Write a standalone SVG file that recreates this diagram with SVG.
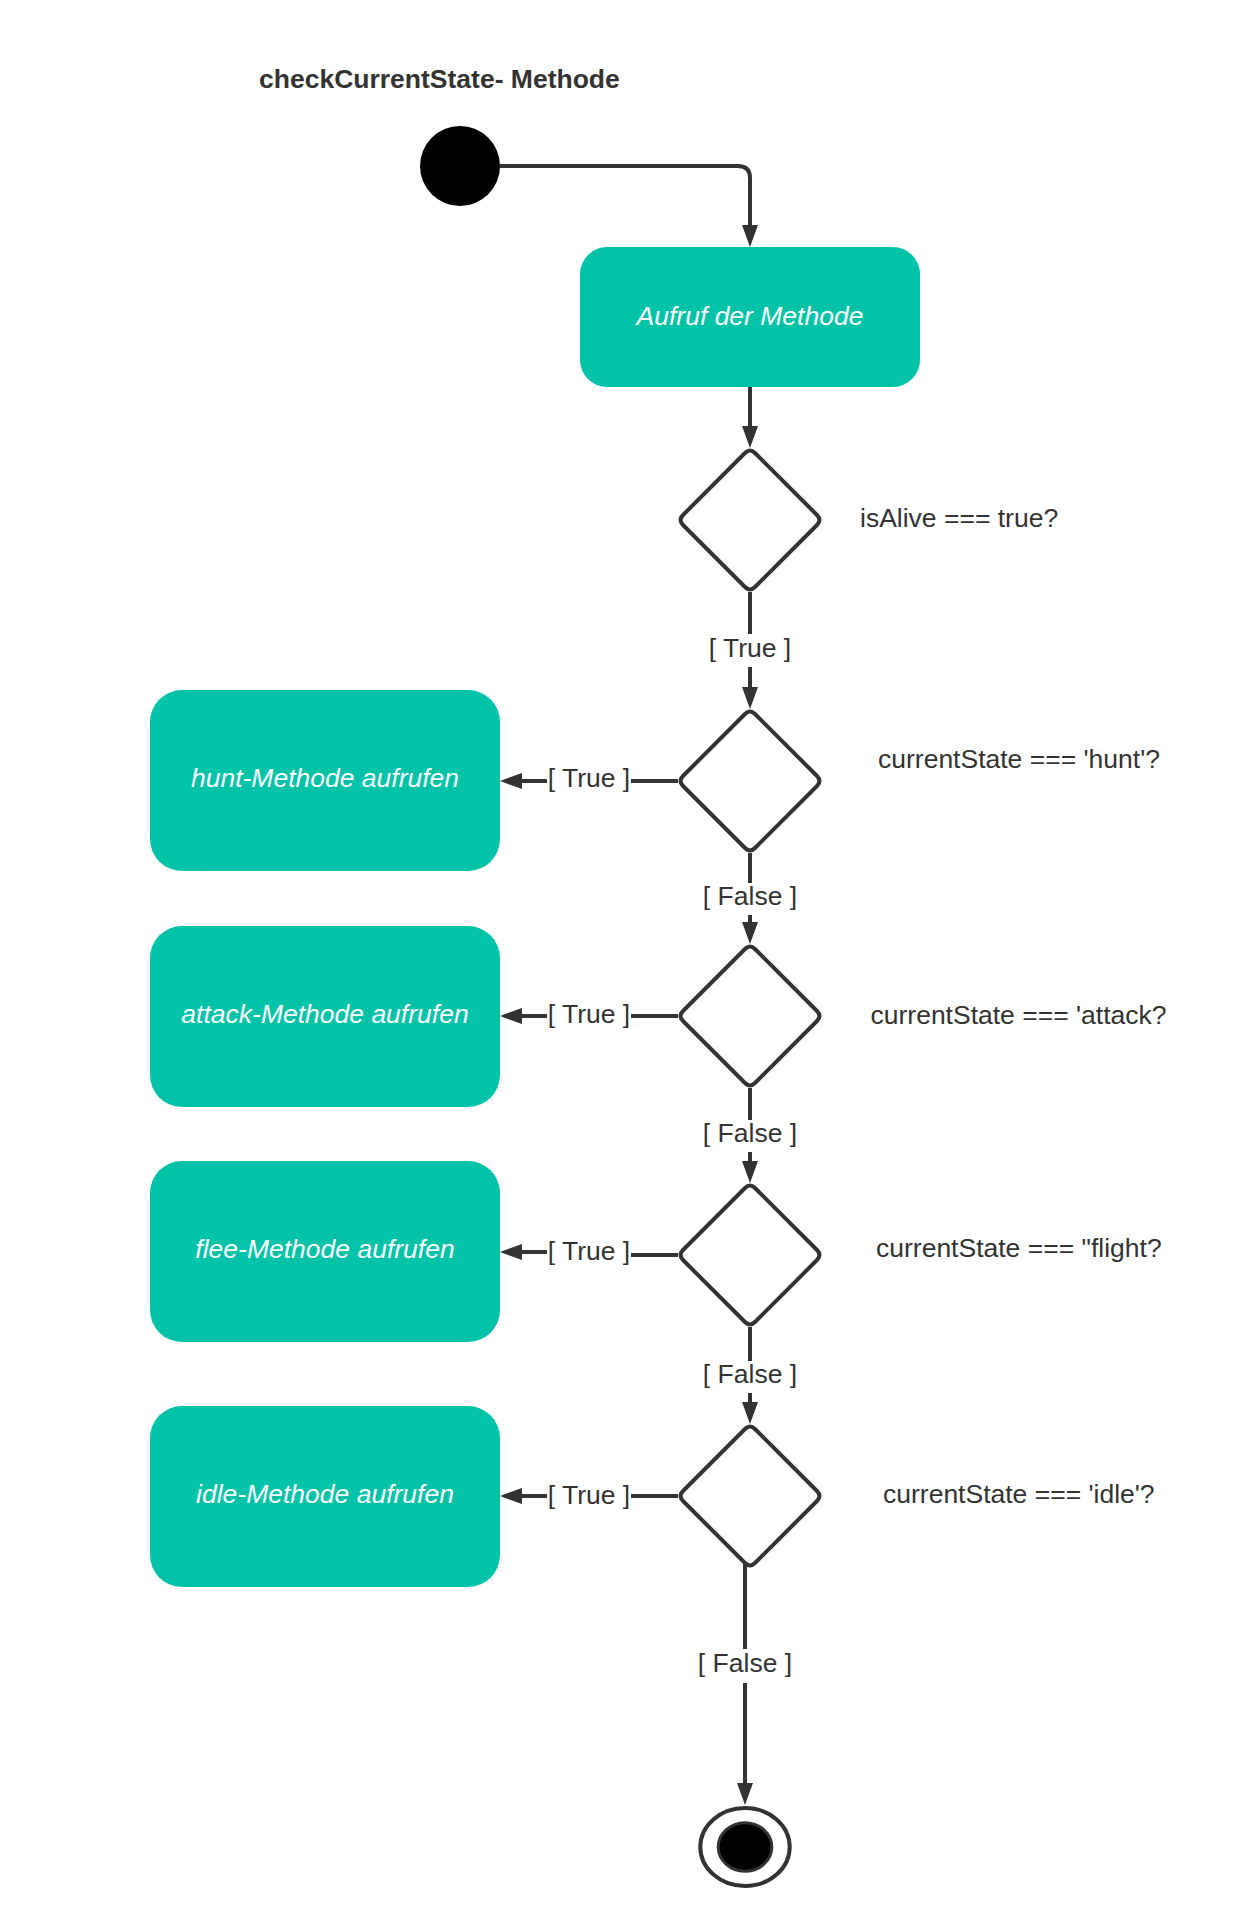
<svg xmlns="http://www.w3.org/2000/svg" width="1240" height="1927" viewBox="0 0 1240 1927">
<style>
.bg{fill:#ffffff}
.act{fill:#02c3a8;stroke:none}
.acttxt{font-family:"Liberation Sans",Arial,sans-serif;font-size:26.5px;font-style:italic;fill:#ffffff;text-anchor:middle}
.dia{fill:#ffffff;stroke:#333333;stroke-width:4;stroke-linejoin:round}
.lbl{font-family:"Liberation Sans",Arial,sans-serif;font-size:26.5px;fill:#333333}
.mid{text-anchor:middle}
.title{font-family:"Liberation Sans",Arial,sans-serif;font-size:26.5px;font-weight:bold;fill:#333333}
.con{fill:none;stroke:#333333;stroke-width:4}
.lblbg{fill:#ffffff}
</style>
<defs>
<marker id="arr" viewBox="0 0 22 16" refX="10" refY="8" markerWidth="22" markerHeight="16" markerUnits="userSpaceOnUse" orient="auto">
<path d="M0,0 L22,8 L0,16 Z" fill="#333333"/>
</marker>
<path id="diamond" d="M-5,-67 Q0,-72 5,-67 L67,-5 Q72,0 67,5 L5,67 Q0,72 -5,67 L-67,5 Q-72,0 -67,-5 Z"/>
</defs>
<rect class="bg" x="0" y="0" width="1240" height="1927"/>
<text class="title" x="259" y="88">checkCurrentState- Methode</text>

<g id="connectors">
<path class="con" d="M500,166 H738 Q750,166 750,178 V235" marker-end="url(#arr)"/>
<path class="con" d="M750,387 V436" marker-end="url(#arr)"/>
<path class="con" d="M750,592 V697" marker-end="url(#arr)"/>
<path class="con" d="M750,853 V932" marker-end="url(#arr)"/>
<path class="con" d="M750,1088 V1171" marker-end="url(#arr)"/>
<path class="con" d="M750,1327 V1412" marker-end="url(#arr)"/>
<path class="con" d="M745,1564 V1793" marker-end="url(#arr)"/>
<path class="con" d="M678,781 H512" marker-end="url(#arr)"/>
<path class="con" d="M678,1016 H512" marker-end="url(#arr)"/>
<path class="con" d="M678,1255 L631,1255 L547,1252 L512,1252" marker-end="url(#arr)"/>
<path class="con" d="M678,1496 H512" marker-end="url(#arr)"/>
<g id="labels">
<rect class="lblbg" x="706" y="634" width="88" height="33"/>
<text class="lbl mid" x="750" y="656.5">[ True ]</text>
<rect class="lblbg" x="702" y="883" width="96" height="32"/>
<text class="lbl mid" x="750" y="905">[ False ]</text>
<rect class="lblbg" x="702" y="1120" width="96" height="32"/>
<text class="lbl mid" x="750" y="1142">[ False ]</text>
<rect class="lblbg" x="702" y="1361" width="96" height="32"/>
<text class="lbl mid" x="750" y="1383">[ False ]</text>
<rect class="lblbg" x="697" y="1649" width="96" height="34"/>
<text class="lbl mid" x="745" y="1672">[ False ]</text>
<rect class="lblbg" x="547" y="765" width="84" height="30"/>
<text class="lbl mid" x="589" y="786.5">[ True ]</text>
<rect class="lblbg" x="547" y="1001" width="84" height="30"/>
<text class="lbl mid" x="589" y="1022.5">[ True ]</text>
<rect class="lblbg" x="547" y="1238" width="84" height="30"/>
<text class="lbl mid" x="589" y="1259.5">[ True ]</text>
<rect class="lblbg" x="547" y="1482" width="84" height="30"/>
<text class="lbl mid" x="589" y="1503.5">[ True ]</text>
</g>
</g>

<g id="start">
<circle cx="460" cy="166" r="40" fill="#000000"/>
</g>

<g id="aufruf">
<rect class="act" x="580" y="247" width="340" height="140" rx="27" ry="27"/>
<text class="acttxt" x="750" y="324.5">Aufruf der Methode</text>
</g>

<g id="decision-isAlive">
<use href="#diamond" class="dia" transform="translate(750,520)"/>
<text class="lbl" x="860" y="526.5">isAlive === true?</text>
</g>

<g id="decision-hunt">
<use href="#diamond" class="dia" transform="translate(750,781)"/>
<text class="lbl" x="878" y="768">currentState === 'hunt'?</text>
</g>

<g id="decision-attack">
<use href="#diamond" class="dia" transform="translate(750,1016)"/>
<text class="lbl" x="870.5" y="1024">currentState === 'attack?</text>
</g>

<g id="decision-flight">
<use href="#diamond" class="dia" transform="translate(750,1255)"/>
<text class="lbl" x="876" y="1257">currentState === "flight?</text>
</g>

<g id="decision-idle">
<use href="#diamond" class="dia" transform="translate(750,1496)"/>
<text class="lbl" x="883" y="1502.5">currentState === 'idle'?</text>
</g>

<g id="hunt">
<rect class="act" x="150" y="690" width="350" height="181" rx="32" ry="32"/>
<text class="acttxt" x="325" y="786.7">hunt-Methode aufrufen</text>
</g>

<g id="attack">
<rect class="act" x="150" y="926" width="350" height="181" rx="32" ry="32"/>
<text class="acttxt" x="325" y="1022.7">attack-Methode aufrufen</text>
</g>

<g id="flee">
<rect class="act" x="150" y="1161" width="350" height="181" rx="32" ry="32"/>
<text class="acttxt" x="325" y="1258.3">flee-Methode aufrufen</text>
</g>

<g id="idle">
<rect class="act" x="150" y="1406" width="350" height="181" rx="32" ry="32"/>
<text class="acttxt" x="325" y="1503.3">idle-Methode aufrufen</text>
</g>

<g id="end">
<ellipse cx="745" cy="1847" rx="44.7" ry="39" fill="#ffffff" stroke="#333333" stroke-width="4"/>
<ellipse cx="745" cy="1847" rx="26.8" ry="24.3" fill="#000000" stroke="#333333" stroke-width="3"/>
</g>
</svg>
